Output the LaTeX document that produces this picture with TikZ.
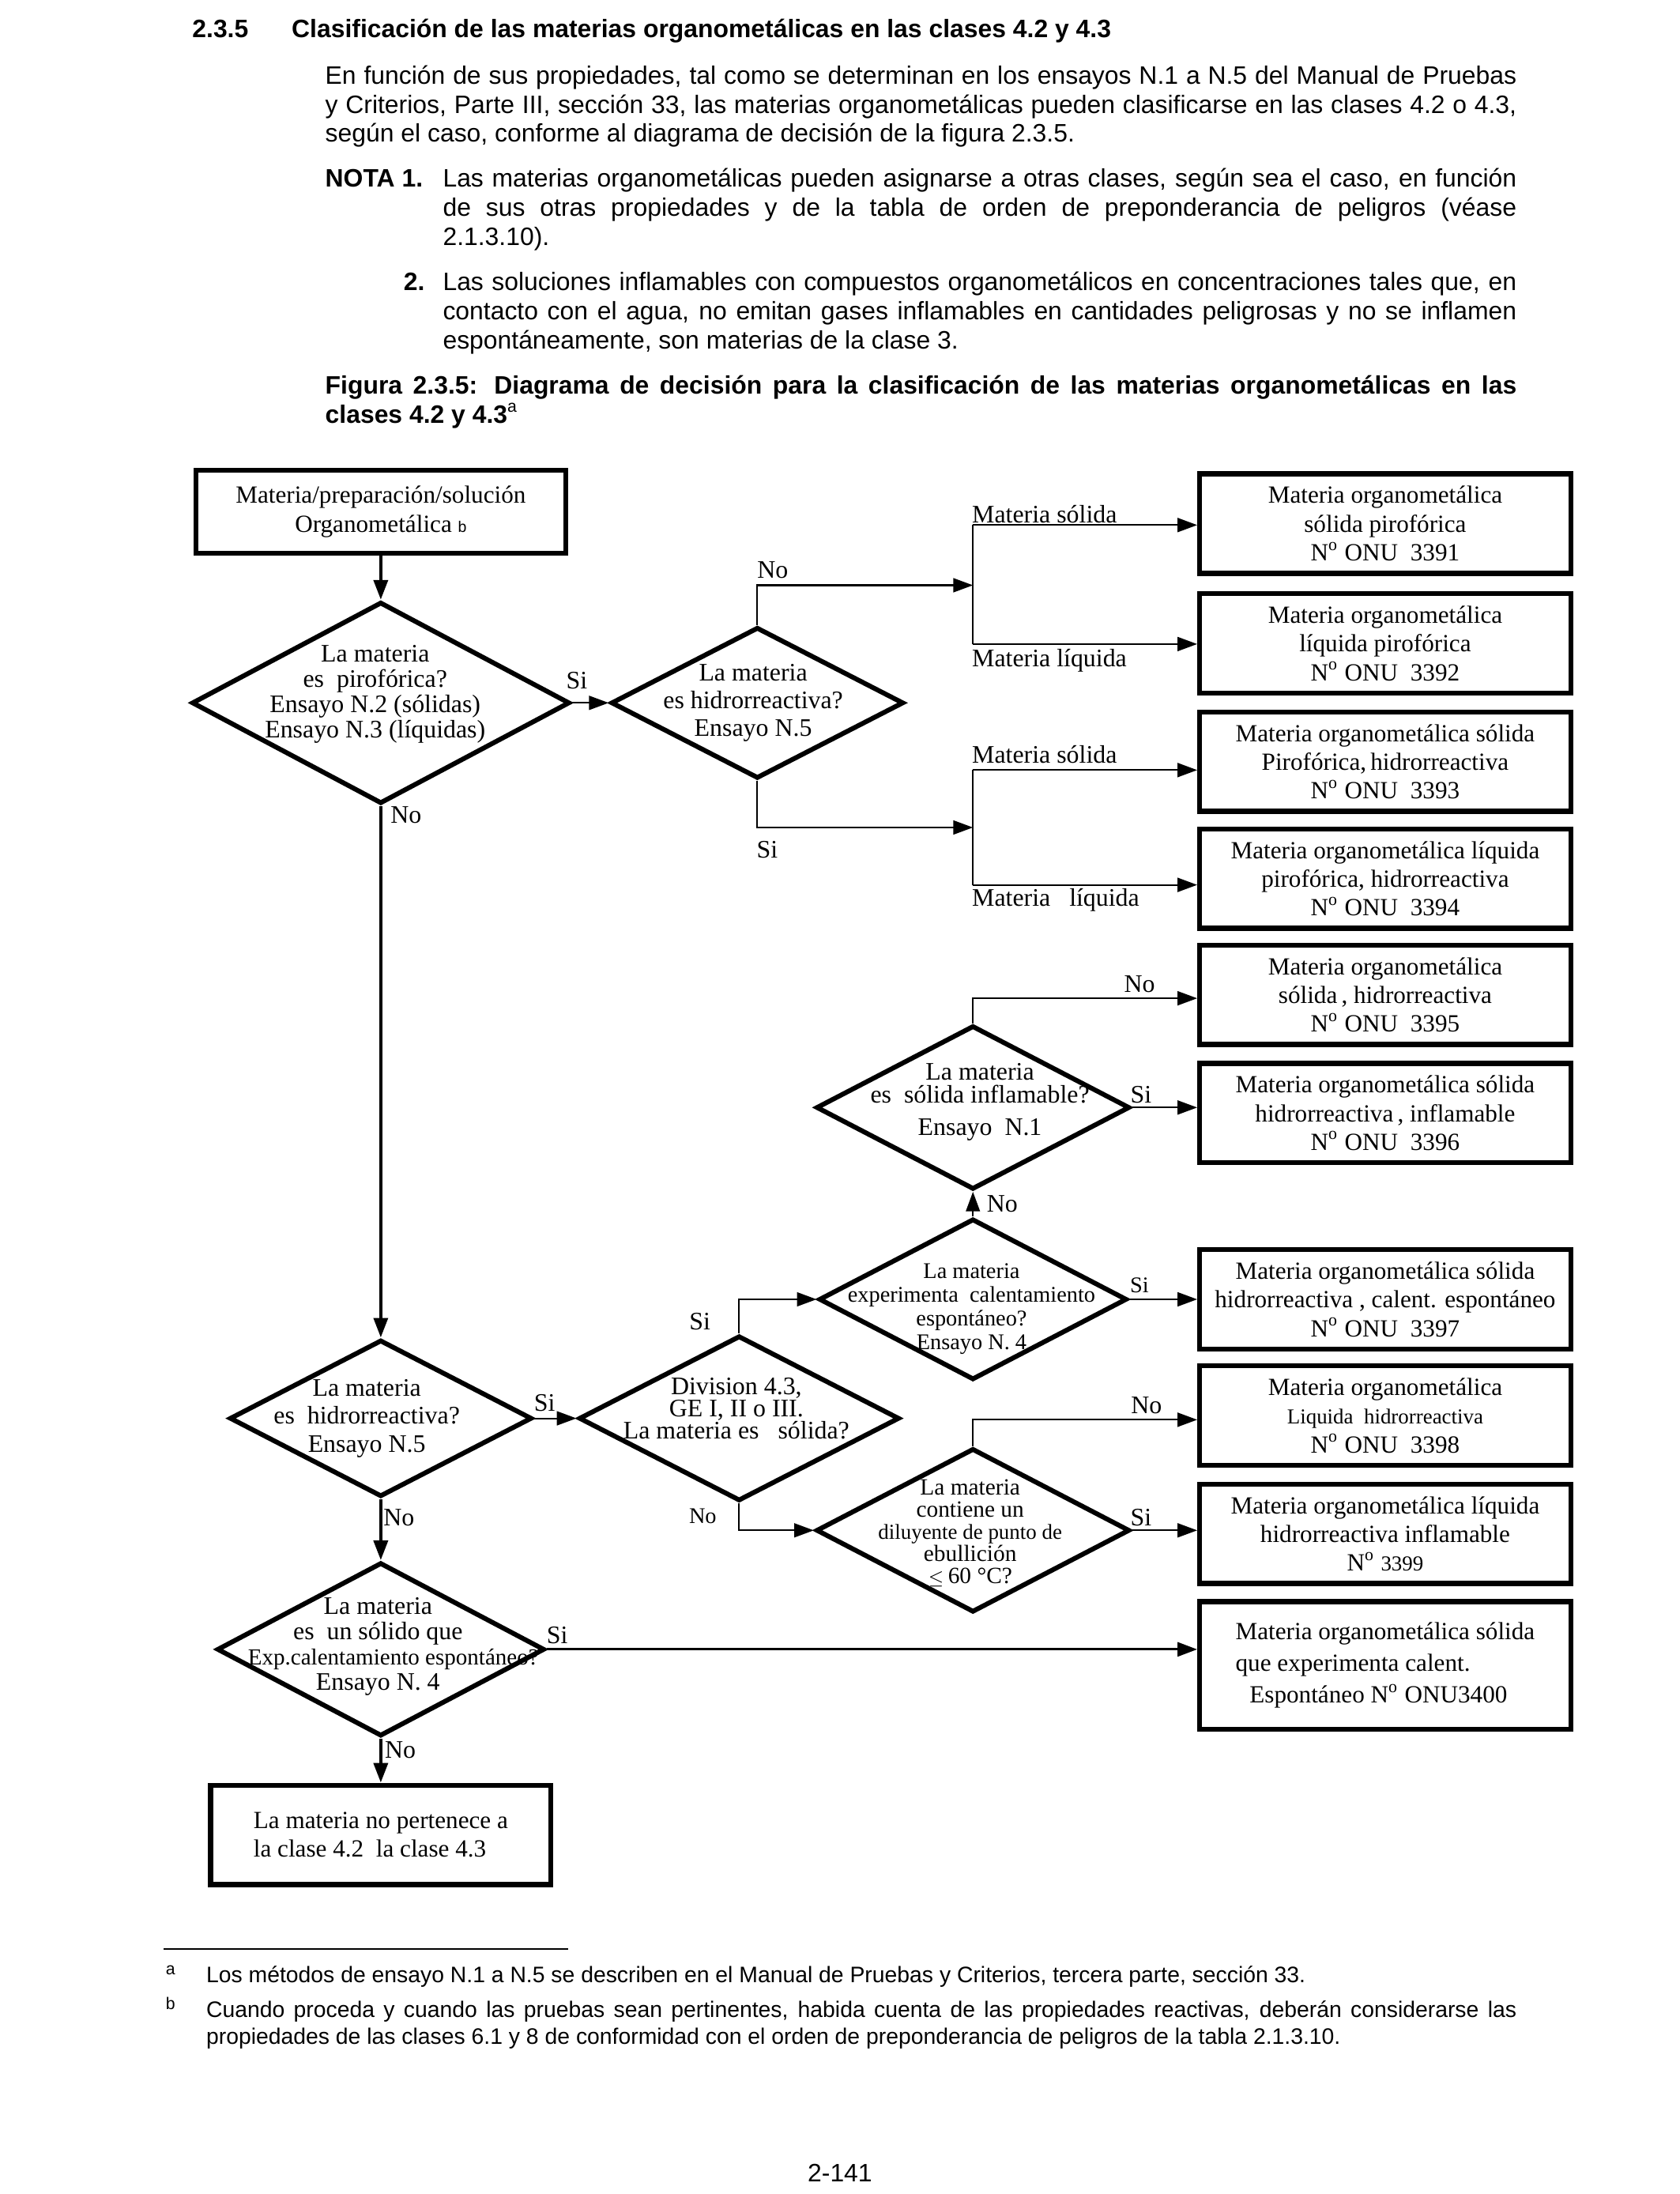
\documentclass[tikz,border=0pt]{standalone}
\usepackage{fontspec}
\setmainfont{Liberation Serif}
\newfontfamily\arialfont{Liberation Sans}
\usetikzlibrary{shapes.geometric,arrows.meta,positioning}

\newcommand\txtfont{\arialfont\fontsize{9}{10.4}\selectfont}
\newcommand\notefont{\arialfont\fontsize{8}{9.6}\selectfont}
\newcommand\boxfont{\fontsize{8.8}{10.25}\selectfont}
\newcommand\decfont{\fontsize{9}{9.4}\selectfont}
\newcommand\smallfont{\fontsize{7.6}{7.8}\selectfont}
\def\Nro{N\textsuperscript{o}}

\begin{document}
\begin{tikzpicture}[% one unit is one pixel of the reduced page
      x=0.5pt, y=-0.5pt,
      >={Triangle[length=7pt,width=5pt]},
      every node/.style={inner sep=0pt},
      box/.style={rectangle, draw, line width=1.8pt,
        minimum width=132.5pt, minimum height=35.5pt,
        align=center, font=\boxfont},
      dec/.style={diamond, draw, line width=1.7pt}, % size is set on each node
      dectext/.style={align=center, font=\decfont},
      lbl/.style={font=\fontsize{9}{10}\selectfont},
      head/.style={anchor=base west, font=\txtfont\bfseries},
      para/.style={anchor=base west, align=justify, font=\txtfont},
      link/.style={draw, line width=0.6pt},
      mainlink/.style={draw, line width=1.2pt}
    ]
    \useasboundingbox (0,0) rectangle (1200,1567);

    % text of the page
    \node[head] (secnum) at (137,27) {2.3.5};
    \node[head] (sectitle) at (208,27) {Clasificación de las materias organometálicas en las clases 4.2 y 4.3};
    \node[para,text width=425.5pt] (intro) at (232,60) {En función de sus propiedades, tal como se determinan en los ensayos N.1 a N.5 del Manual de Pruebas\linebreak y Criterios, Parte III, sección 33, las materias organometálicas pueden clasificarse en las clases 4.2 o 4.3,\linebreak según el caso, conforme al diagrama de decisión de la figura 2.3.5.};
    \node[head] (nota) at (232,133.5) {NOTA 1.};
    \node[para,text width=383.5pt] (nota1) at (316,133.5) {Las materias organometálicas pueden asignarse a otras clases, según sea el caso, en función\linebreak de sus otras propiedades y de la tabla de orden de preponderancia de peligros (véase\linebreak 2.1.3.10).};
    \node[head] (notb) at (288,207.5) {2.};
    \node[para,text width=383.5pt] (nota2) at (316,207.5) {Las soluciones inflamables con compuestos organometálicos en concentraciones tales que, en\linebreak contacto con el agua, no emitan gases inflamables en cantidades peligrosas y no se inflamen\linebreak espontáneamente, son materias de la clase 3.};
    \node[para,text width=425.5pt,font=\txtfont\bfseries] (caption) at (232,281.5) {Figura 2.3.5: Diagrama de decisión para la clasificación de las materias organometálicas en las\linebreak clases 4.2 y 4.3\textsuperscript{\mdseries a}};

    % boxes
    \node[box,minimum width=132pt,minimum height=29.5pt] (src) at (272,365.5) {Materia/preparación/solución\\Organometálica {\arialfont\fontsize{5.5}{6}\selectfont b}};
    \node[box] (b3391) at (989.5,374) {Materia organometálica\\sólida pirofórica\\\Nro\ ONU\ \ 3391};
    \node[box] (b3392) at (989.5,459.5) {Materia organometálica\\líquida pirofórica\\\Nro\ ONU\ \ 3392};
    \node[box] (b3393) at (989.5,544) {Materia organometálica sólida\\Pirofórica,\,hidrorreactiva\\\Nro\ ONU\ \ 3393};
    \node[box] (b3394) at (989.5,627.5) {Materia organometálica líquida\\pirofórica, hidrorreactiva\\\Nro\ ONU\ \ 3394};
    \node[box] (b3395) at (989.5,710.5) {Materia organometálica\\sólida\,, hidrorreactiva\\\Nro\ ONU\ \ 3395};
    \node[box] (b3396) at (989.5,795) {Materia organometálica sólida\\hidrorreactiva\,, inflamable\\\Nro\ ONU\ \ 3396};
    \node[box] (b3397) at (989.5,928) {Materia organometálica sólida\\hidrorreactiva , calent. espontáneo\\\Nro\ ONU\ \ 3397};
    \node[box] (b3398) at (989.5,1011) {Materia organometálica\\{\smallfont Liquida\ \ hidrorreactiva}\\\Nro\ ONU\ \ 3398};
    \node[box] (b3399) at (989.5,1095.5) {Materia organometálica líquida\\hidrorreactiva inflamable\\\Nro\ {\smallfont 3399}};
    \node[box,minimum height=45.5pt,align=left,font=\fontsize{8.8}{11.25}\selectfont] (b3400) at (989.5,1189.5) {Materia organometálica sólida\\que experimenta calent.\\\hspace{5pt}Espontáneo \Nro\ ONU3400};
    \node[box,minimum width=121.5pt,align=left] (endb) at (272,1310.5) {La materia no pertenece a\\la clase 4.2\ \ la clase 4.3};

    % decisions
    \node[dec,minimum width=135pt,minimum height=72pt] (d1) at (272,502) {};
    \node[dectext,font=\fontsize{9}{9}\selectfont] (t1) at (268,496) {La materia\\es\ \ pirofórica?\\Ensayo N.2 (sólidas)\\Ensayo N.3 (líquidas)};
    \node[dec,minimum width=104.5pt,minimum height=54pt] (d2) at (541,502) {};
    \node[dectext,font=\fontsize{9}{10}\selectfont] (t2) at (538,502) {La materia\\es hidrorreactiva?\\Ensayo N.5};
    \node[dec,minimum width=112pt,minimum height=58.5pt] (d3) at (695,791) {};
    \node[dectext,font=\fontsize{9}{8.2}\selectfont] (t3) at (700,787) {La materia\\es\ \ sólida inflamable?\\[3.5pt]Ensayo\ \ N.1};
    \node[dec,minimum width=110pt,minimum height=57.5pt] (d4) at (695,928) {};
    \node[dectext,font=\fontsize{8}{8.5}\selectfont] (t4) at (694,935) {La materia\\experimenta\ \ calentamiento\\espontáneo?\\Ensayo N. 4};
    \node[dec,minimum width=108pt,minimum height=56pt] (d5) at (272,1013) {};
    \node[dectext,font=\fontsize{9}{10}\selectfont] (t5) at (262,1013) {La materia\\es\ \ hidrorreactiva?\\Ensayo N.5};
    \node[dec,minimum width=114.5pt,minimum height=59pt] (d6) at (528,1013) {};
    \node[dectext,font=\fontsize{9}{8}\selectfont] (t6) at (526,1006) {Division 4.3,\\GE I, II o III.\\La materia es\ \ \ sólida?};
    \node[dec,minimum width=112pt,minimum height=58.5pt] (d7) at (695,1093) {};
    \node[dectext,font=\fontsize{8.3}{7.9}\selectfont] (t7) at (693,1095) {La materia\\contiene un\\{\smallfont diluyente de punto de}\\ebullición\\{\fontsize{6}{6}\selectfont$\leq$}\,60 °C?};
    \node[dec,minimum width=117pt,minimum height=62pt] (d8) at (272,1178) {};
    \node[dectext,font=\fontsize{9}{9}\selectfont] (t8) at (270,1176) {La materia\\es\ \ un sólido que\\\hspace*{11pt}{\fontsize{8.2}{8.5}\selectfont Exp.calentamiento espontáneo?}\\Ensayo N. 4};

    % branch points
    \coordinate (brA) at (695,418);
    \coordinate (brAs) at (695,375);
    \coordinate (brAl) at (695,460);
    \coordinate (brB) at (695,591);
    \coordinate (brBs) at (695,550);
    \coordinate (brBl) at (695,632);

    % connectors
    \draw[->,mainlink] (src.south) -- (d1.north);
    \draw[->,link] (d1.east) -- (d2.west);
    \draw[->,link] (d2.north) |- (brA);
    \draw[link] (brAs) -- (brAl);
    \draw[->,link] (brAs) -- (brAs -| b3391.west);
    \draw[->,link] (brAl) -- (brAl -| b3392.west);
    \draw[->,link] (d2.south) |- (brB);
    \draw[link] (brBs) -- (brBl);
    \draw[->,link] (brBs) -- (brBs -| b3393.west);
    \draw[->,link] (brBl) -- (brBl -| b3394.west);
    \draw[->,mainlink] (d1.south) -- (d5.north);
    \draw[->,link] (d5.east) -- (d6.west);
    \draw[->,link] (d6.north) |- (d4.west);
    \draw[->,link] (d4.east) -- (d4.east -| b3397.west);
    \draw[->,link] (d4.north) -- (d3.south);
    \draw[->,link] (d3.east) -- (d3.east -| b3396.west);
    \draw[->,link] (d3.north) |- ([yshift=-1.25pt]b3395.west);
    \draw[->,link] (d6.south) |- (d7.west);
    \draw[->,link] (d7.north) |- ([yshift=-1.5pt]b3398.west);
    \draw[->,link] (d7.east) -- (d7.east -| b3399.west);
    \draw[->,mainlink] (d5.south) -- (d8.north);
    \draw[->,link,line width=0.9pt] (d8.east) -- (d8.east -| b3400.west);
    \draw[->,mainlink] (d8.south) -- (endb.north);

    % labels on the connectors
    \node[lbl] (siA) at (412,486) {Si};
    \node[lbl] (noA) at (552,407) {No};
    \node[lbl,anchor=west] (solA) at (694,367) {Materia sólida};
    \node[lbl,anchor=west] (liqA) at (694,472) {Materia líquida};
    \node[lbl] (siB) at (548,607) {Si};
    \node[lbl,anchor=west] (solB) at (694,539) {Materia sólida};
    \node[lbl,anchor=west] (liqB) at (694,643) {Materia\ \ \ líquida};
    \node[lbl] (noB) at (290,582) {No};
    \node[lbl] (siC) at (389,1002) {Si};
    \node[lbl] (siD) at (500,944) {Si};
    \node[lbl,font=\fontsize{8}{9}\selectfont] (siE) at (814,918) {Si};
    \node[lbl] (noE) at (716,860) {No};
    \node[lbl] (siF) at (815,782) {Si};
    \node[lbl] (noF) at (814,703) {No};
    \node[lbl,font=\fontsize{8}{9}\selectfont] (noG) at (502,1083) {No};
    \node[lbl] (noH) at (819,1004) {No};
    \node[lbl] (siH) at (815,1084) {Si};
    \node[lbl] (noC) at (285,1084) {No};
    \node[lbl] (siJ) at (398,1168) {Si};
    \node[lbl] (noJ) at (286,1250) {No};

    % footnotes
    \draw[line width=0.6pt] (117,1392) -- (406,1392);
    \node[anchor=base west,font=\notefont] (fna) at (118,1416) {\textsuperscript{a}};
    \node[anchor=base west,font=\notefont] (fnatext) at (147,1416) {Los métodos de ensayo N.1 a N.5 se describen en el Manual de Pruebas y Criterios, tercera parte, sección 33.};
    \node[anchor=base west,font=\notefont] (fnb) at (118,1441) {\textsuperscript{b}};
    \node[para,text width=468pt,font=\notefont] (fnbtext) at (147,1441) {Cuando proceda y cuando las pruebas sean pertinentes, habida cuenta de las propiedades reactivas, deberán considerarse las\linebreak propiedades de las clases 6.1 y 8 de conformidad con el orden de preponderancia de peligros de la tabla 2.1.3.10.};
    \node[font=\arialfont\fontsize{9}{10}\selectfont] (pagenum) at (600,1552) {2-141};
  \end{tikzpicture}
\end{document}
